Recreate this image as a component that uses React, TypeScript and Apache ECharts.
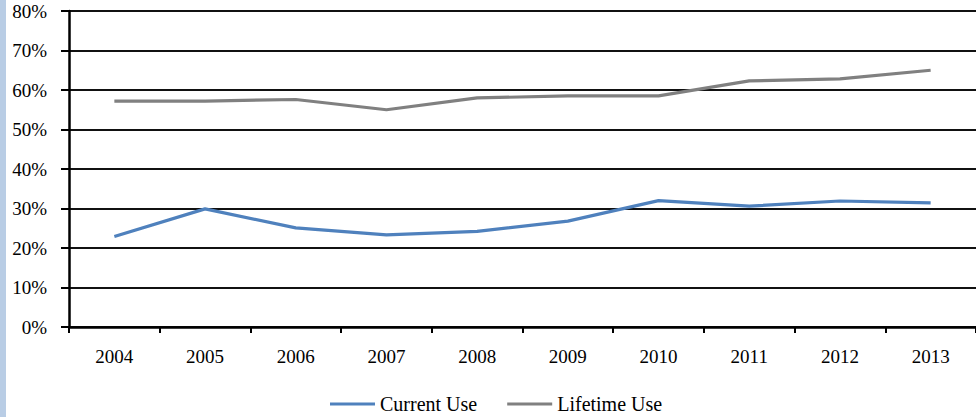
import React, { useEffect, useRef } from "react";
import * as echarts from "echarts";

const years = ["2004", "2005", "2006", "2007", "2008", "2009", "2010", "2011", "2012", "2013"];
const currentUse = [22.9, 29.9, 25.1, 23.3, 24.2, 26.8, 32.0, 30.6, 31.9, 31.4];
const lifetimeUse = [57.2, 57.2, 57.6, 55.0, 58.0, 58.5, 58.5, 62.3, 62.8, 65.0];
const yTicks = { min: 0, max: 80, interval: 10 };

const FONT = "'Liberation Serif', 'Times New Roman', serif";

export default function App() {
  const ref = useRef<HTMLDivElement>(null);
  useEffect(() => {
    if (!ref.current) return;
    const chart = echarts.init(ref.current, undefined, { renderer: "svg" });
    chart.setOption({
      animation: false,
      backgroundColor: "#ffffff",
      textStyle: { fontFamily: FONT },
      graphic: [
        { type: "rect", left: 0, top: 0, shape: { width: 6, height: 417 }, style: { fill: "#b9cde5" }, z: 10 },
      ],
      grid: { left: 69, top: 11, width: 910, height: 316, containLabel: false },
      legend: {
        left: 330,
        top: 394,
        padding: 0,
        icon: "rect",
        itemWidth: 45,
        itemHeight: 3,
        itemGap: 30,
        textStyle: { fontFamily: FONT, fontSize: 20, color: "#000" },
        data: ["Current Use", "Lifetime Use"],
      },
      xAxis: {
        type: "category",
        data: years,
        boundaryGap: true,
        axisLine: { lineStyle: { color: "#000", width: 2.5 } },
        axisTick: { show: true, length: 6, lineStyle: { color: "#000", width: 2 } },
        axisLabel: { margin: 20, fontFamily: FONT, fontSize: 19, color: "#000" },
      },
      yAxis: {
        type: "value",
        min: yTicks.min,
        max: yTicks.max,
        interval: yTicks.interval,
        axisLine: { show: true, lineStyle: { color: "#000", width: 2.5 } },
        axisTick: { show: true, length: 8, lineStyle: { color: "#000", width: 2 } },
        axisLabel: {
          margin: 22,
          fontFamily: FONT,
          fontSize: 19,
          color: "#000",
          formatter: (v: number) => v + "%",
        },
        splitLine: { show: true, lineStyle: { color: "#111", width: 1.8 } },
      },
      series: [
        {
          name: "Current Use",
          type: "line",
          data: currentUse,
          symbol: "none",
          lineStyle: { color: "#4f81bd", width: 3.2 },
          itemStyle: { color: "#4f81bd" },
        },
        {
          name: "Lifetime Use",
          type: "line",
          data: lifetimeUse,
          symbol: "none",
          lineStyle: { color: "#808080", width: 3.2 },
          itemStyle: { color: "#808080" },
        },
      ],
    });
    return () => chart.dispose();
  }, []);
  return (
    <div
      ref={ref}
      style={{ position: "fixed", left: 0, top: 0, width: 976, height: 417 }}
    />
  );
}
